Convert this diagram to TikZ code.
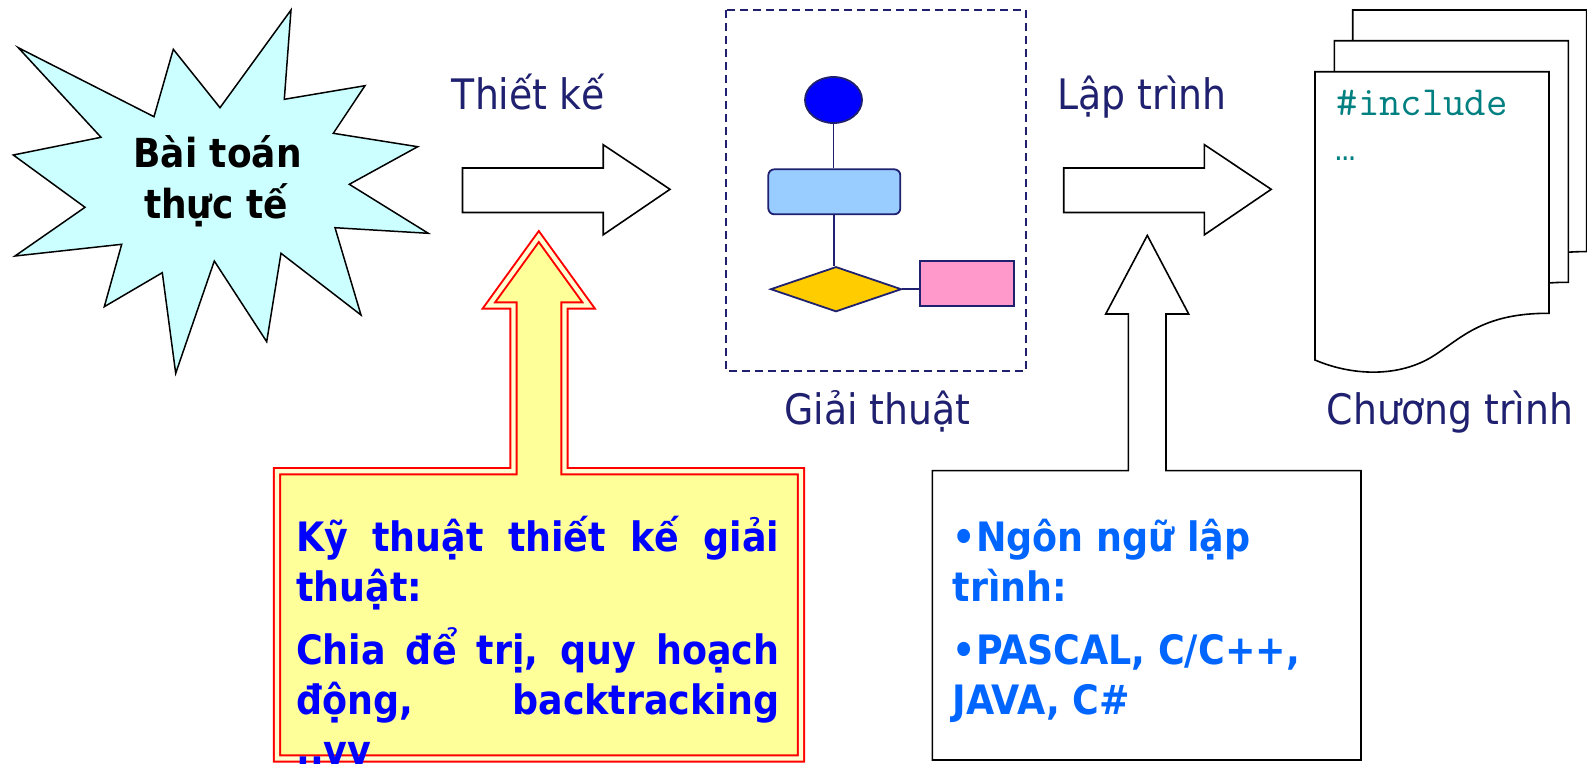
\documentclass[tikz,border=0pt]{standalone}
\usepackage{fontspec}
\setmainfont{DejaVuSansCondensed}[Extension=.ttf, BoldFont=DejaVuSansCondensed-Bold]
\newfontfamily\codefont{Liberation Mono}
\usetikzlibrary{shapes.geometric}
\definecolor{navy}{RGB}{32,32,112}
\definecolor{burst}{RGB}{204,255,255}
\definecolor{note}{RGB}{255,255,153}
\definecolor{notegap}{RGB}{255,255,210}
\definecolor{teal2}{RGB}{0,128,128}
\definecolor{lblue}{RGB}{153,204,255}
\definecolor{gold}{RGB}{255,204,0}
\definecolor{pink2}{RGB}{255,153,204}
\definecolor{codeblue}{RGB}{0,102,255}
\definecolor{pureblue}{RGB}{0,0,255}
\tikzset{
  lbl/.style={font=\fontsize{42}{50}\selectfont, text=navy, inner sep=0, anchor=base},
  burstfont/.style={font=\fontsize{40}{50}\selectfont\bfseries, inner sep=0, anchor=base},
  ytxt/.style={font=\fontsize{40.5}{50}\selectfont\bfseries, text=pureblue, inner sep=0, anchor=base west},
  wtxt/.style={font=\fontsize{40.5}{50}\selectfont\bfseries, text=codeblue, inner sep=0, anchor=base west},
  code/.style={font=\ttfamily\fontsize{41.5}{45}\selectfont, text=teal2, inner sep=0, anchor=base west},
  codedots/.style={font=\codefont\fontsize{34}{40}\selectfont, text=teal2, inner sep=0, anchor=base west},
  blockarrow/.style={draw=black, line width=1.6, fill=white},
  fc/.style={draw=navy, line width=1.8},
  page/.style={draw=black, line width=1.6, fill=white},
}
\begin{document}
\begin{tikzpicture}[x=1pt,y=-1pt]
\useasboundingbox (0,0) rectangle (1587,764);
\clip (0,0) rectangle (1587,764);
\fill[white] (0,0) rectangle (1587,764);

% starburst
\draw[line width=1.5, fill=burst] (18.3,47.7) -- (154,116.7) -- (173.3,49.3) -- (220,107.7) -- (291,10) -- (284.3,99.3) -- (365,85.7) -- (333.3,133.3) -- (417.7,146.7) -- (349.3,184.3) -- (428.3,233.3) -- (335,227.7) -- (361,315) -- (281,253.3) -- (266.7,341.7) -- (214.3,261) -- (175.7,373.3) -- (162.3,272.7) -- (104.3,306.7) -- (121.7,244.3) -- (15,256) -- (85,207.3) -- (13.3,155) -- (101,137.3) -- cycle;
\node[burstfont] (b1) at (217.5,167.7) {Bài toán};
\node[burstfont] (b2) at (216,218.3) {thực tế};

% top block arrows
\draw[blockarrow] (462.5,168) -- (603.2,168) -- (603.2,144.7) -- (670,189.3) -- (603.2,234.8) -- (603.2,212.5) -- (462.5,212.5) -- cycle;
\draw[blockarrow] (1063.7,168) -- (1204.4,168) -- (1204.4,144.7) -- (1271.2,189.3) -- (1204.4,234.8) -- (1204.4,212.5) -- (1063.7,212.5) -- cycle;

% labels
\node[lbl] (tk) at (528.3,109.3) {Thiết kế};
\node[lbl] (lt) at (1142,109.3) {Lập trình};
\node[lbl] (gt) at (877.3,424) {Giải thuật};
\node[lbl] (ct) at (1450,424) {Chương trình};

% algorithm box
\draw[navy, line width=1.6, dash pattern=on 8pt off 5pt] (726,10) rectangle (1026,371);
\node[fc, ellipse, fill=pureblue, minimum width=57, minimum height=46, inner sep=0] (ell) at (833.5,100) {};
\node[fc, rounded corners=6, fill=lblue, minimum width=132, minimum height=45, inner sep=0] (proc) at (834.3,191.8) {};
\node[fc, diamond, fill=gold, minimum width=131, minimum height=45, inner sep=0] (dec) at (836,289.2) {};
\node[fc, fill=pink2, minimum width=94, minimum height=45.3, inner sep=0] (out) at (966.7,283.3) {};
\draw[fc] (ell.south) -- (ell.south |- proc.north);
\draw[fc] (proc.south) -- (proc.south |- dec.north);
\draw[fc] (dec.east) -- (dec.east -| out.west);

% program pages
\foreach \dx/\dy in {37.7/-61.7, 19.3/-31, 0/0}
  \draw[page, shift={(\dx,\dy)}] (1315,71.7) -- (1549,71.7) -- (1549,313.3) .. controls (1480,313) and (1460,340) .. (1430,358) .. controls (1395,378) and (1350,375) .. (1315,360) -- cycle;
\node[code] (inc) at (1336.5,115.5) {\#include};
\node[codedots] (dots) at (1335,160.5) {…};

% yellow callout
\draw[draw=red, line width=2, double=notegap, double distance=4.3, fill=note] (277,471.2) -- (513.4,471.2) -- (513.4,305.4) -- (488.9,305.4) -- (538.8,236.5) -- (588.6,305.4) -- (564.5,305.4) -- (564.5,471.2) -- (801,471.2) -- (801,758.5) -- (277,758.5) -- cycle;
\node[ytxt] (y1) at (296,551.4) {\makebox[483pt][s]{Kỹ thuật thiết kế giải}};
\node[ytxt] (y2) at (296,601.7) {thuật:};
\node[ytxt] (y3) at (296,664.1) {\makebox[483pt][s]{Chia để trị, quy hoạch}};
\node[ytxt] (y4) at (296,714.4) {\makebox[483pt][s]{động, backtracking}};
\node[ytxt] (y5) at (296,764) {..vv};

% white callout
\draw[line width=1.6, fill=white] (932.3,470.6) -- (1128.3,470.6) -- (1128.3,314) -- (1105.7,314) -- (1147.3,235.4) -- (1188.7,314) -- (1166,314) -- (1166,470.6) -- (1361,470.6) -- (1361,760) -- (932.3,760) -- cycle;
\node[wtxt] (w1) at (952.7,551.4) {•Ngôn ngữ lập};
\node[wtxt] (w2) at (952.7,601.7) {trình:};
\node[wtxt] (w3) at (952.7,664.1) {•PASCAL, C/C++,};
\node[wtxt] (w4) at (952.7,714.4) {JAVA, C\#};
\end{tikzpicture}
\end{document}
